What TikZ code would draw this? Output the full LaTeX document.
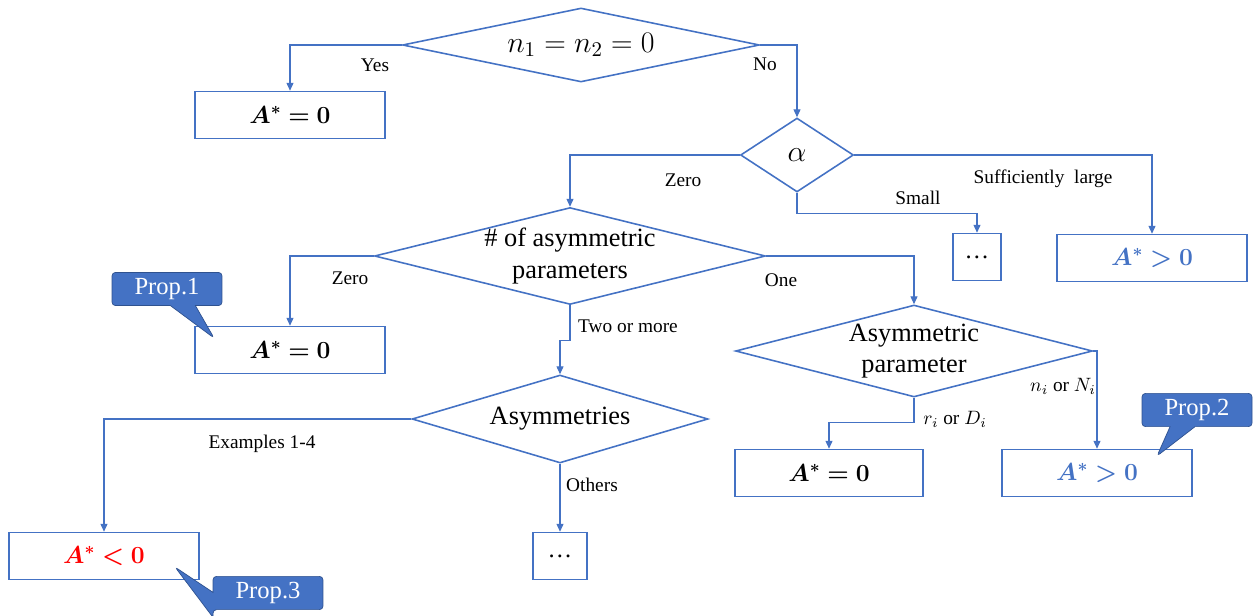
\documentclass[tikz,border=0pt]{standalone}
\usepackage{fix-cm}
\usepackage{fontspec}
\setmainfont{Liberation Serif}
\newfontfamily\tnr{Liberation Serif}
\usepackage{bm}
\usetikzlibrary{shapes.geometric,shapes.callouts,arrows.meta}
\definecolor{ppblue}{RGB}{68,114,196}
\definecolor{ppdark}{RGB}{47,82,143}

\begin{document}
\begin{tikzpicture}[x=0.02cm,y=-0.02cm,
    dec/.style={diamond,draw=ppblue,line width=0.9pt,inner sep=0pt},
    dtxt/.style={align=center,font=\tnr\fontsize{15}{18}\selectfont},
    big/.style={font=\fontsize{17}{20}\selectfont},
    res/.style={rectangle,draw=ppblue,line width=0.9pt,minimum width=3.8cm,minimum height=0.94cm,font=\fontsize{14}{16}\selectfont},
    lnk/.style={draw=ppblue,line width=0.6pt,-{Triangle[length=4.5pt,width=4pt]}},
    lbl/.style={font=\tnr\fontsize{11}{13}\selectfont},
    prop/.style={rectangle callout,rounded corners=2pt,fill=ppblue,draw=ppdark,text=white,
      minimum width=2.2cm,minimum height=0.62cm,callout pointer width=0.5cm,font=\tnr\fontsize{14}{16}\selectfont}]
  \useasboundingbox (0,0) rectangle (1260,615);
  % decisions
  \node[dec,minimum width=7.14cm,minimum height=1.48cm] (d1) at (581,45) {};
  \node[dec,minimum width=2.26cm,minimum height=1.48cm] (alpha) at (797,155) {};
  \node[dec,minimum width=7.82cm,minimum height=1.94cm] (d2) at (570,256) {};
  \node[dec,minimum width=7.14cm,minimum height=1.84cm] (d3) at (914,351) {};
  \node[dec,minimum width=5.92cm,minimum height=1.76cm] (d4) at (560,419) {};
  \node[big] (d1t) at (d1) {$n_1=n_2=0$};
  \node[big] (alphat) at (alpha) {$\alpha$};
  \node[dtxt] (d2t) at (d2) {\# of asymmetric\\parameters};
  \node[dtxt] (d3t) at (d3) {Asymmetric\\parameter};
  \node[dtxt] (d4t) at (d4) {Asymmetries};
  % results
  \node[res] (b1) at (290,115) {$\bm{A^*=0}$};
  \node[res,minimum width=0.96cm] (dots1) at (977,257) {\ldots};
  \node[res] (pos1) at (1152,258) {\color{ppblue}$\bm{A^*>0}$};
  \node[res] (b3) at (290,350) {$\bm{A^*=0}$};
  \node[res,minimum width=3.76cm] (zero3) at (829,473) {$\bm{A^*=0}$};
  \node[res] (pos2) at (1097,473) {\color{ppblue}$\bm{A^*>0}$};
  \node[res] (neg) at (104,556) {\color{red}$\bm{A^*<0}$};
  \node[res,minimum width=1.08cm] (dots2) at (560,556) {\ldots};
  % links
  \draw[lnk] (d1.west) -| (b1.north);
  \draw[lnk] (d1.east) -| (alpha.north);
  \draw[lnk] (alpha.west) -| (d2.north);
  \draw[lnk] (alpha.south) -- ++(0,21) -| (dots1.north);
  \draw[lnk] (alpha.east) -| (pos1.north);
  \draw[lnk] (d2.west) -| (b3.north);
  \draw[lnk] (d2.south) -- ++(0,35) -| (d4.north);
  \draw[lnk] (d2.east) -| (d3.north);
  \draw[lnk] (d3.south) -- ++(0,25) -| (zero3.north);
  \draw[lnk] (d3.east) -| (pos2.north);
  \draw[lnk] (d4.west) -| (neg.north);
  \draw[lnk] (d4.south) -- (dots2.north);
  % branch labels
  \node[lbl] (lyes) at (375,65) {Yes};
  \node[lbl] (lno) at (765,64) {No};
  \node[lbl] (lzero1) at (683,180) {Zero};
  \node[lbl] (lsmall) at (918,198) {Small};
  \node[lbl] (llarge) at (1043,179) {Sufficiently\ \ large};
  \node[lbl] (lzero2) at (350,278) {Zero};
  \node[lbl] (lone) at (781,280) {One};
  \node[lbl] (ltwo) at (628,326) {Two or more};
  \node[lbl] (lrd) at (955,419) {$r_i$ or $D_i$};
  \node[lbl] (lnn) at (1063,386) {$n_i$ or $N_i$};
  \node[lbl] (lex) at (262,444) {Examples 1-4};
  \node[lbl] (loth) at (592,485) {Others};
  % callouts
  \coordinate (t1) at (214,338);
  \coordinate (t2) at (1157,456);
  \coordinate (t3) at (175,567);
  \node[prop,callout absolute pointer=(t1)] (p1) at (167,289) {Prop.1};
  \node[prop,callout absolute pointer=(t2)] (p2) at (1197,410) {Prop.2};
  \node[prop,callout absolute pointer=(t3)] (p3) at (268,593) {Prop.3};
\end{tikzpicture}
\end{document}
